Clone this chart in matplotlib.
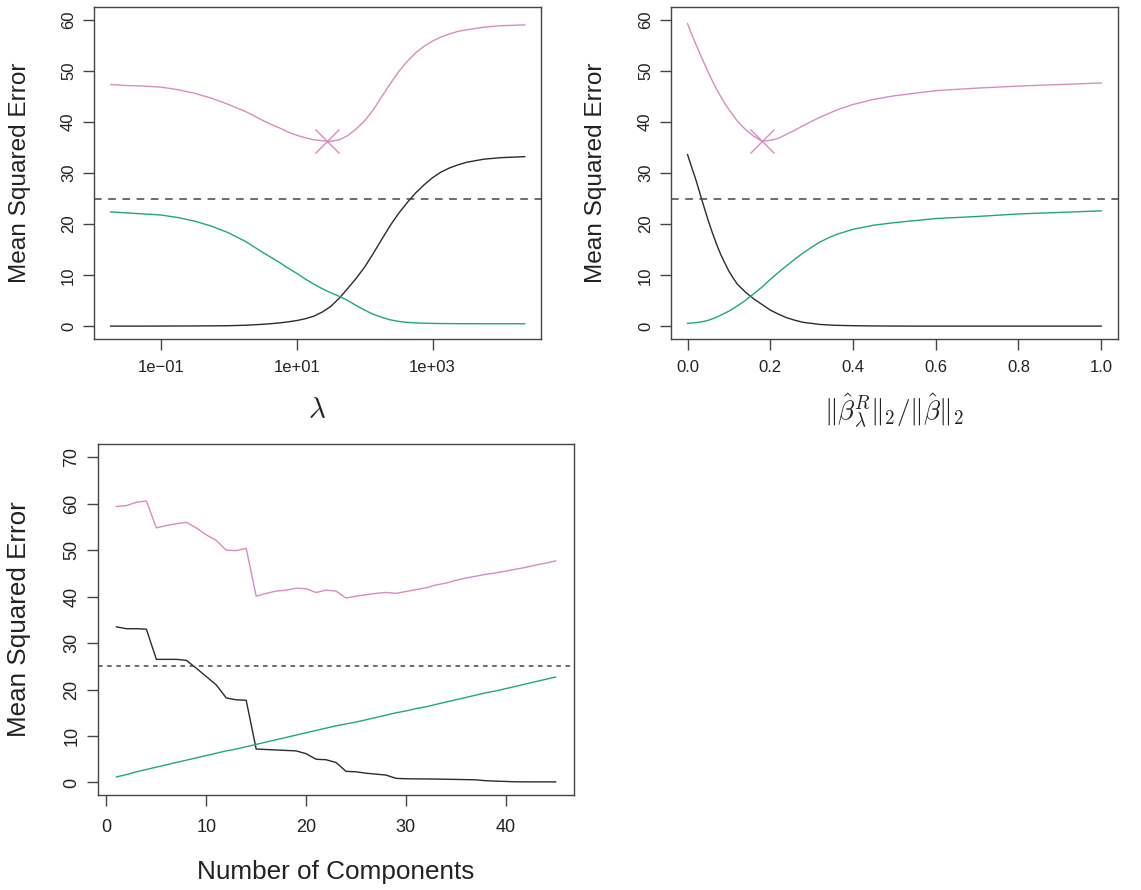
#!/usr/bin/env python3
"""Ridge / PCR bias-variance curves, R base-graphics look."""
import matplotlib
matplotlib.use('Agg')
import matplotlib.pyplot as plt

plt.rcParams['font.family'] = ['Liberation Sans', 'DejaVu Sans']
plt.rcParams['mathtext.fontset'] = 'cm'

PINK = '#d98cc0'
GREEN = '#1fa77f'
BLACK = '#2b2b2b'
TXT = '#222222'
IRREDUCIBLE = 25

# --- top left: versus lambda (log scale) ---
lam = [0.0184, 0.0316, 0.0562, 0.1, 0.178, 0.316, 0.562, 1.0, 1.78, 3.16,
       4.22, 5.62, 7.50, 10.0, 13.3, 17.8, 23.7, 31.6, 42.2, 56.2, 75.0,
       100, 133, 178, 237, 316, 422, 562, 750, 1000, 1334, 1778, 2371,
       3162, 5623, 10000, 22650]
lam_bias = [0.07, 0.07, 0.07, 0.08, 0.09, 0.1, 0.12, 0.15, 0.24, 0.42,
            0.55, 0.7, 0.9, 1.15, 1.5, 2.0, 2.8, 3.9, 5.5, 7.4, 9.4, 11.6,
            14.2, 17.0, 19.7, 22.1, 24.2, 26.1, 27.7, 29.1, 30.2, 31.0,
            31.6, 32.1, 32.7, 33.0, 33.2]
lam_var = [22.4, 22.2, 22.0, 21.8, 21.3, 20.6, 19.6, 18.3, 16.6, 14.5,
           13.5, 12.5, 11.4, 10.4, 9.3, 8.3, 7.4, 6.6, 5.9, 5.1, 4.1, 3.2,
           2.4, 1.8, 1.3, 1.0, 0.8, 0.7, 0.63, 0.6, 0.57, 0.56, 0.55, 0.54,
           0.53, 0.53, 0.53]
lam_mse = [47.3, 47.1, 47.0, 46.8, 46.3, 45.6, 44.6, 43.4, 42.0, 40.3,
           39.5, 38.8, 38.0, 37.4, 36.9, 36.5, 36.3, 36.2, 36.5, 37.3, 38.6,
           40.2, 42.3, 44.9, 47.4, 49.8, 51.8, 53.5, 54.8, 55.8, 56.6, 57.2,
           57.7, 58.0, 58.5, 58.8, 58.96]
lam_best = (28.2, 36.2)

# --- top right: versus norm ratio ---
ratio = [0.0, 0.01, 0.02, 0.03, 0.04, 0.05, 0.06, 0.07, 0.08, 0.09, 0.10,
         0.11, 0.12, 0.14, 0.16, 0.18, 0.20, 0.22, 0.24, 0.26, 0.28, 0.30,
         0.32, 0.34, 0.36, 0.40, 0.45, 0.50, 0.55, 0.60, 0.70, 0.80, 0.90,
         1.00]
ratio_bias = [33.6, 31.1, 28.7, 26.0, 23.3, 20.7, 18.3, 16.1, 14.1, 12.4,
              10.8, 9.5, 8.3, 6.7, 5.4, 4.3, 3.2, 2.4, 1.7, 1.2, 0.8, 0.6,
              0.4, 0.3, 0.22, 0.15, 0.1, 0.08, 0.07, 0.07, 0.07, 0.07, 0.07,
              0.07]
ratio_var = [0.6, 0.67, 0.75, 0.87, 1.0, 1.2, 1.5, 1.8, 2.2, 2.6, 3.0, 3.5,
             4.0, 5.1, 6.4, 7.7, 9.2, 10.6, 11.9, 13.2, 14.4, 15.5, 16.5,
             17.3, 18.0, 19.0, 19.8, 20.3, 20.7, 21.1, 21.5, 22.0, 22.3, 22.6]
ratio_mse = [59.2, 57.1, 55.2, 53.3, 51.5, 49.7, 48.0, 46.4, 45.0, 43.6,
             42.4, 41.3, 40.2, 38.5, 37.2, 36.2, 36.4, 36.8, 37.6, 38.4, 39.3,
             40.1, 40.9, 41.6, 42.3, 43.4, 44.4, 45.1, 45.6, 46.1, 46.6, 47.0,
             47.3, 47.6]
ratio_best = (0.181, 36.2)

# --- bottom: versus number of components ---
comps = list(range(1, 46))
pcr_bias = [33.5, 33.1, 33.1, 33.0, 26.5, 26.5, 26.5, 26.3, 24.6, 22.8, 21.0,
            18.2, 17.8, 17.7, 7.2, 7.1, 7.0, 6.9, 6.8, 6.2, 5.0, 4.9, 4.3,
            2.4, 2.3, 2.0, 1.8, 1.6, 0.9, 0.8, 0.78, 0.76, 0.74, 0.7, 0.66,
            0.62, 0.58, 0.38, 0.3, 0.22, 0.15, 0.14, 0.13, 0.13, 0.12]
pcr_var = [1.2, 1.7, 2.3, 2.8, 3.3, 3.8, 4.3, 4.8, 5.3, 5.8, 6.3, 6.8, 7.2,
           7.7, 8.2, 8.7, 9.2, 9.7, 10.2, 10.7, 11.2, 11.7, 12.2, 12.6, 13.0,
           13.5, 14.0, 14.5, 15.0, 15.4, 15.9, 16.3, 16.8, 17.3, 17.8, 18.3,
           18.8, 19.3, 19.7, 20.2, 20.7, 21.2, 21.7, 22.2, 22.7]
pcr_mse = [59.4, 59.6, 60.3, 60.6, 54.8, 55.3, 55.7, 56.0, 54.8, 53.3, 52.1,
           50.0, 49.9, 50.4, 40.1, 40.7, 41.2, 41.4, 41.8, 41.7, 40.9, 41.4,
           41.2, 39.7, 40.1, 40.4, 40.7, 40.9, 40.7, 41.1, 41.5, 41.9, 42.5,
           42.9, 43.5, 44.0, 44.4, 44.8, 45.1, 45.5, 45.9, 46.3, 46.8, 47.2,
           47.7]

fig = plt.figure(figsize=(11.41, 8.90), dpi=100)
fig.patch.set_facecolor('white')

ax1 = fig.add_axes([0.0824, 0.6191, 0.3915, 0.3727])
ax2 = fig.add_axes([0.5881, 0.6191, 0.3915, 0.3727])
ax3 = fig.add_axes([0.0863, 0.1067, 0.4164, 0.3944])


def style(ax, tick_fs, label_fs, ylab_x):
    for sp in ax.spines.values():
        sp.set_color('#444444')
        sp.set_linewidth(1.0)
    ax.tick_params(direction='out', length=8, width=1.0, color='#444444',
                   labelsize=tick_fs, labelcolor=TXT, pad=7)
    ax.tick_params(axis='y', pad=5)
    for lab in ax.get_yticklabels():
        lab.set_rotation(90)
        lab.set_va('center')
    ax.set_ylabel('Mean Squared Error', fontsize=label_fs, color=TXT,
                  va='center')
    ax.yaxis.set_label_coords(ylab_x, 0.5)


# top left
ax1.plot(lam, lam_bias, color=BLACK, lw=1.0)
ax1.plot(lam, lam_var, color=GREEN, lw=1.0)
ax1.plot(lam, lam_mse, color=PINK, lw=1.0)
ax1.axhline(IRREDUCIBLE, color='#444444', lw=1.1, linestyle=(0, (5, 4.3)))
ax1.plot(*lam_best, marker='x', ms=17, mew=1.0, color=PINK)
ax1.set_xscale('log')
ax1.set_xlim(10 ** -1.98, 10 ** 4.59)
ax1.set_ylim(-2.45, 62.4)
ax1.set_xticks([0.1, 10, 1000])
ax1.set_xticklabels(['1e\u221201', '1e+01', '1e+03'])
ax1.xaxis.set_minor_locator(matplotlib.ticker.NullLocator())
ax1.set_yticks(range(0, 61, 10))
style(ax1, 12, 17.6, -0.166)
ax1.set_xlabel(r'$\lambda$', fontsize=21, color=TXT, va='center')
ax1.xaxis.set_label_coords(0.5, -0.214)

# top right
ax2.plot(ratio, ratio_bias, color=BLACK, lw=1.0)
ax2.plot(ratio, ratio_var, color=GREEN, lw=1.0)
ax2.plot(ratio, ratio_mse, color=PINK, lw=1.0)
ax2.axhline(IRREDUCIBLE, color='#444444', lw=1.1, linestyle=(0, (5, 4.3)))
ax2.plot(*ratio_best, marker='x', ms=17, mew=1.0, color=PINK)
ax2.set_xlim(-0.04, 1.04)
ax2.set_ylim(-2.45, 62.4)
ax2.set_xticks([0.0, 0.2, 0.4, 0.6, 0.8, 1.0])
ax2.set_xticklabels(['0.0', '0.2', '0.4', '0.6', '0.8', '1.0'])
ax2.set_yticks(range(0, 61, 10))
style(ax2, 12, 17.6, -0.169)
ax2.set_xlabel(r'$\|\hat{\beta}^R_\lambda\|_2/\|\hat{\beta}\|_2$',
               fontsize=19.5, color=TXT, va='center')
ax2.xaxis.set_label_coords(0.5, -0.217)

# bottom
ax3.plot(comps, pcr_bias, color=BLACK, lw=1.0)
ax3.plot(comps, pcr_var, color=GREEN, lw=1.0)
ax3.plot(comps, pcr_mse, color=PINK, lw=1.0)
ax3.axhline(IRREDUCIBLE, color='#444444', lw=1.1, linestyle=(0, (3, 3)))
ax3.set_xlim(-0.8, 46.8)
ax3.set_ylim(-2.7, 72.85)
ax3.set_xticks(range(0, 41, 10))
ax3.set_yticks(range(0, 71, 10))
style(ax3, 13, 18.7, -0.167)
ax3.tick_params(axis='x', pad=9)
ax3.set_xlabel('Number of Components', fontsize=18.8, color=TXT,
               va='center')
ax3.xaxis.set_label_coords(0.5, -0.2185)

fig.savefig('out.png', dpi=100, facecolor='white')
